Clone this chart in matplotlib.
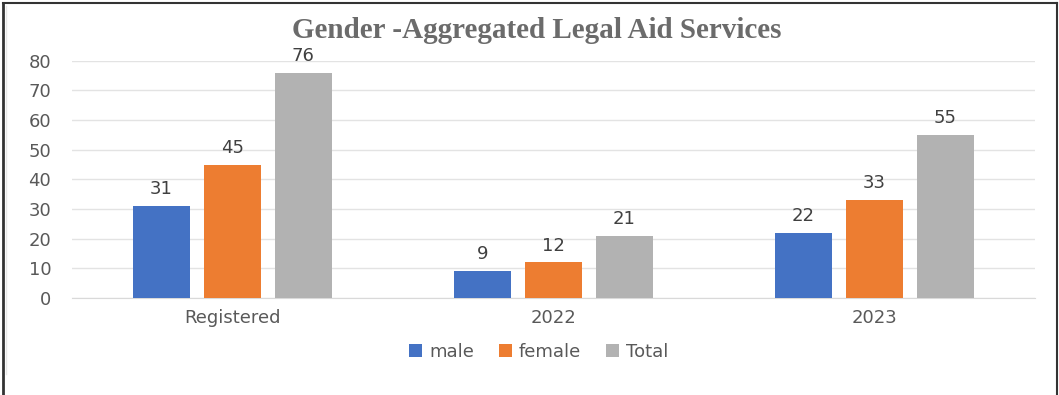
import numpy as np
import matplotlib.pyplot as plt
from matplotlib.lines import Line2D

# data
categories = ['Registered', '2022', '2023']
series_names = ['male', 'female', 'Total']
male = [31, 9, 22]
female = [45, 12, 33]
total = [76, 21, 55]
colors = ['#4472C4', '#ED7D31', '#B2B2B2']

plt.rcParams['font.family'] = ['DejaVu Sans']

fig = plt.figure(figsize=(10.59, 3.95), dpi=100)
ax = fig.add_axes([0.068, 0.246, 0.909, 0.6])

x = np.arange(len(categories))
width = 0.178
step = 0.221
for i, (vals, name) in enumerate(zip([male, female, total], series_names)):
    pos = x + (i - 1) * step
    bars = ax.bar(pos, vals, width, color=colors[i], label=name, zorder=3)
    for b, v in zip(bars, vals):
        ax.text(b.get_x() + b.get_width() / 2, v + 2.6, str(v), ha='center', va='bottom',
                fontsize=13, color='#404040')

ax.set_xlim(-0.5, 2.5)
ax.set_ylim(0, 80)
ax.set_yticks(range(0, 81, 10))
ax.set_xticks(x)
ax.set_xticklabels(categories)
ax.grid(axis='y', color='#e3e3e3', linewidth=1, zorder=0)
for s in ax.spines.values():
    s.set_visible(False)
ax.spines['bottom'].set_visible(True)
ax.spines['bottom'].set_color('#d9d9d9')
ax.tick_params(axis='both', length=0, labelsize=13, labelcolor='#595959')
ax.tick_params(axis='y', pad=15)
ax.tick_params(axis='x', pad=8)

fig.text(0.507, 0.922, 'Gender -Aggregated Legal Aid Services', ha='center', va='center',
         fontsize=21, fontweight='bold', color='#6b6b6b', family='Liberation Serif')

ax.legend(loc='center', bbox_to_anchor=(0.485, -0.228), ncol=3, frameon=False,
          fontsize=13, labelcolor='#595959', handlelength=0.7, handleheight=0.7,
          handletextpad=0.4, columnspacing=1.4)

# outer frame
fig.add_artist(Line2D([0.0025, 0.0025], [0, 0.992], color='#333333', lw=2, transform=fig.transFigure))
fig.add_artist(Line2D([0.998, 0.998], [0, 0.992], color='#333333', lw=1.5, transform=fig.transFigure))
fig.add_artist(Line2D([0.0025, 0.998], [0.992, 0.992], color='#333333', lw=1.5, transform=fig.transFigure))
fig.add_artist(Line2D([0.006, 0.006], [0.053, 0.985], color='#e8e8e8', lw=1, transform=fig.transFigure))

fig.savefig('out.png', dpi=100)
